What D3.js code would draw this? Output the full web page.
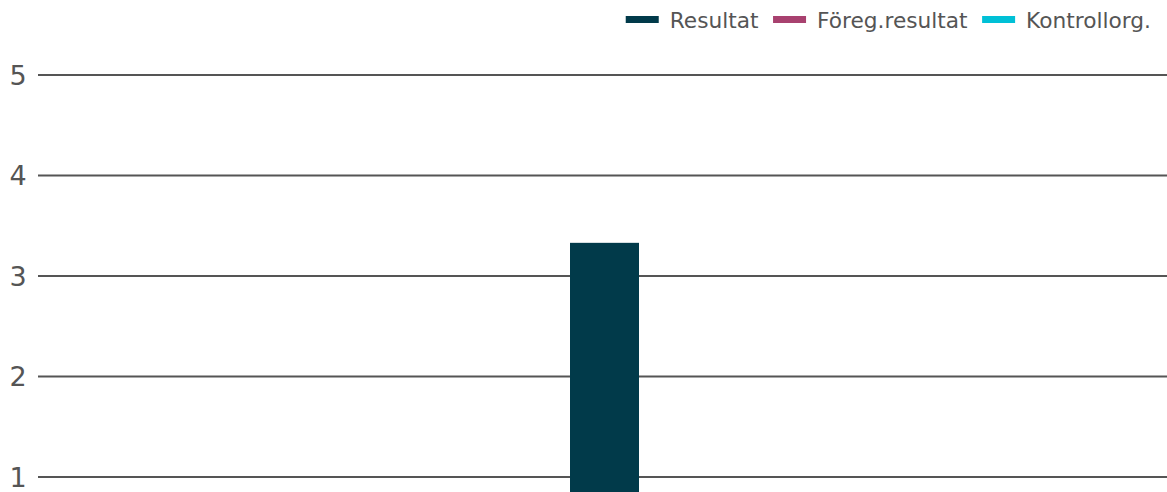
<!DOCTYPE html>
<html>
<head>
<meta charset="utf-8">
<script src="https://cdn.jsdelivr.net/npm/d3@7"></script>
<style>
  html, body { margin: 0; padding: 0; background: #fff; }
  svg { display: block; font-family: "DejaVu Sans", sans-serif; }
</style>
</head>
<body>
<svg id="chart" width="1167" height="492"></svg>
<script>
// ---- data ----
const categories = ["Totalt"];
const seriesNames = ["Resultat", "Föreg.resultat", "Kontrollorg."];
const seriesColors = ["#013a4a", "#a8416f", "#00c0d6"];
const resultat = [3.33];
const foregResultat = [null];
const kontrollorg = [null];
const yTicks = [1, 2, 3, 4, 5];

const seriesValues = [resultat, foregResultat, kontrollorg];

// ---- layout ----
const W = 1167, H = 492;
const svg = d3.select("#chart");
const plotLeft = 38, plotRight = 1171;

const y = d3.scaleLinear().domain([1, 5]).range([477, 75]);
const x = d3.scaleBand().domain(categories).range([plotLeft, plotRight])
  .paddingInner(0).paddingOuter(7.71);

// gridlines
const gAxis = svg.append("g");
gAxis.selectAll("line.grid").data(yTicks).join("line")
  .attr("class", "grid")
  .attr("x1", plotLeft).attr("x2", W)
  .attr("y1", d => y(d)).attr("y2", d => y(d))
  .attr("stroke", "#555").attr("stroke-width", 2);

gAxis.selectAll("text.tick").data(yTicks).join("text")
  .attr("class", "tick")
  .attr("x", 9.5).attr("y", d => y(d)).attr("dy", "0.36em")
  .attr("fill", "#555").attr("font-size", 27)
  .text(d => d);

// bars
categories.forEach((cat, ci) => {
  const present = seriesValues.map((vals, si) => ({ si, v: vals[ci] })).filter(d => d.v != null);
  const sub = d3.scaleBand().domain(present.map(d => d.si)).range([x(cat), x(cat) + x.bandwidth()]);
  svg.append("g").selectAll("rect").data(present).join("rect")
    .attr("x", d => sub(d.si))
    .attr("width", sub.bandwidth())
    .attr("y", d => y(d.v))
    .attr("height", d => Math.max(0, y(0) - y(d.v)))
    .attr("fill", d => seriesColors[d.si]);
});

// legend (right aligned)
const legend = svg.append("g");
const swW = 33, swH = 7, gapSwText = 11, gapItem = 14.5, legendRight = 1151, legendY = 19.5;
const items = seriesNames.map((name, i) => {
  const g = legend.append("g");
  g.append("rect").attr("width", swW).attr("height", swH).attr("y", -swH / 2).attr("fill", seriesColors[i]);
  const t = g.append("text").attr("x", swW + gapSwText).attr("y", 1).attr("dy", "0.36em")
    .attr("fill", "#555").attr("font-size", 21.7).text(name);
  return { g, w: swW + gapSwText + t.node().getComputedTextLength() };
});
const total = d3.sum(items, d => d.w) + gapItem * (items.length - 1);
let cx = legendRight - total;
items.forEach(it => {
  it.g.attr("transform", `translate(${cx},${legendY})`);
  cx += it.w + gapItem;
});
</script>
</body>
</html>
